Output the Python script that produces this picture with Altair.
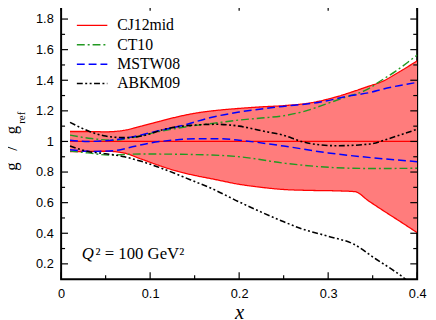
import altair as alt
import pandas as pd

# ---------------- data ----------------
SETS = ["CJ12mid", "CT10", "MSTW08", "ABKM09"]

# CJ12mid uncertainty band (ratio to reference)
band_x = [0.01, 0.03, 0.05, 0.07, 0.09, 0.11, 0.13, 0.15, 0.17, 0.20, 0.225, 0.25, 0.28, 0.31, 0.33, 0.345, 0.36, 0.38, 0.40]
band_hi = [1.065, 1.065, 1.063, 1.072, 1.100, 1.130, 1.160, 1.184, 1.200, 1.216, 1.226, 1.234, 1.252, 1.293, 1.330, 1.360, 1.390, 1.455, 1.527]
band_lo = [0.933, 0.935, 0.936, 0.925, 0.885, 0.843, 0.806, 0.778, 0.755, 0.720, 0.700, 0.686, 0.680, 0.677, 0.672, 0.613, 0.555, 0.480, 0.404]
cj_mid_x = [0.01, 0.40]
cj_mid_y = [1.0, 1.0]

# CT10 band edges
ct_hi_x = [0.01, 0.034, 0.06, 0.08, 0.108, 0.145, 0.17, 0.20, 0.225, 0.252, 0.275, 0.30, 0.32, 0.344, 0.36, 0.376, 0.39, 0.40]
ct_hi_y = [1.041, 1.019, 1.008, 1.025, 1.062, 1.100, 1.118, 1.140, 1.153, 1.170, 1.200, 1.250, 1.290, 1.340, 1.400, 1.460, 1.520, 1.565]
ct_lo_x = [0.01, 0.03, 0.053, 0.09, 0.145, 0.20, 0.252, 0.307, 0.35, 0.40]
ct_lo_y = [0.937, 0.925, 0.911, 0.918, 0.915, 0.900, 0.857, 0.829, 0.823, 0.825]

# MSTW08 band edges
mstw_hi_x = [0.01, 0.03, 0.05, 0.08, 0.108, 0.14, 0.167, 0.20, 0.244, 0.29, 0.326, 0.347, 0.362, 0.40]
mstw_hi_y = [1.008, 1.000, 1.005, 1.030, 1.068, 1.110, 1.155, 1.192, 1.226, 1.256, 1.300, 1.320, 1.343, 1.386]
mstw_lo_x = [0.01, 0.035, 0.06, 0.08, 0.10, 0.125, 0.153, 0.18, 0.20, 0.25, 0.30, 0.35, 0.40]
mstw_lo_y = [0.946, 0.935, 0.940, 0.965, 0.990, 1.008, 1.018, 1.018, 1.008, 0.970, 0.925, 0.893, 0.868]

# ABKM09 band edges
abkm_hi_x = [0.01, 0.03, 0.05, 0.07, 0.09, 0.116, 0.145, 0.175, 0.20, 0.225, 0.25, 0.27, 0.29, 0.31, 0.347, 0.369, 0.39, 0.40]
abkm_hi_y = [1.125, 1.070, 1.035, 1.025, 1.035, 1.080, 1.105, 1.112, 1.100, 1.070, 1.040, 1.000, 0.978, 0.972, 0.983, 1.020, 1.060, 1.080]
abkm_lo_x = [0.01, 0.03, 0.05, 0.071, 0.09, 0.108, 0.145, 0.17, 0.20, 0.248, 0.27, 0.30, 0.329, 0.354, 0.37, 0.384, 0.395]
abkm_lo_y = [0.970, 0.935, 0.920, 0.900, 0.870, 0.835, 0.750, 0.690, 0.605, 0.480, 0.430, 0.380, 0.328, 0.230, 0.170, 0.113, 0.060]

x_major = [0.0, 0.1, 0.2, 0.3, 0.4]
x_minor = [0.05, 0.15, 0.25, 0.35]
y_major = [0.2, 0.4, 0.6, 0.8, 1.0, 1.2, 1.4, 1.6, 1.8]
y_minor = [0.3, 0.5, 0.7, 0.9, 1.1, 1.3, 1.5, 1.7]

y_title_main = ["g\u2002\u2009/\u2002\u2009g"]
y_title_sub = ["ref"]
q_sym = ["Q"]
q_rest = ["\u00b2 = 100 GeV\u00b2"]

# ---------------- styles ----------------
COLORS = ["#ff0000", "#229922", "#0000ff", "#000000"]
DASHES = [[1, 0], [8, 3, 2, 3], [8, 4], [6, 2.5, 2, 2.5, 2, 2.5]]
WIDTHS = [1.3, 1.6, 1.6, 1.3]
W, H = 362, 280

# ---------------- tables ----------------
band_df = pd.DataFrame({"x": band_x, "y": band_hi, "ylo": band_lo})

parts = [
    ("CJ12mid", "mid", cj_mid_x, cj_mid_y),
    ("CJ12mid", "hi", band_x, band_hi),
    ("CJ12mid", "lo", band_x, band_lo),
    ("CT10", "hi", ct_hi_x, ct_hi_y),
    ("CT10", "lo", ct_lo_x, ct_lo_y),
    ("MSTW08", "hi", mstw_hi_x, mstw_hi_y),
    ("MSTW08", "lo", mstw_lo_x, mstw_lo_y),
    ("ABKM09", "hi", abkm_hi_x, abkm_hi_y),
    ("ABKM09", "lo", abkm_lo_x, abkm_lo_y),
]
rows = []
for s, p, xs, ys in parts:
    for i, (a, b) in enumerate(zip(xs, ys)):
        rows.append({"set": s, "part": s + p, "x": a, "y": b, "i": i})
lines_df = pd.DataFrame(rows)

xscale = alt.Scale(domain=[0, 0.4], nice=False, zero=False)
yscale = alt.Scale(domain=[0.1, 1.9], nice=False, zero=False)

X = alt.X("x:Q", scale=xscale, axis=alt.Axis(
    values=x_major, format=".1~f", ticks=False, tickSize=0, domain=False, grid=False,
    labelFlush=False, labelPadding=9, labelFont="Liberation Sans", labelFontSize=13,
    labelColor="black", title="x", titleFont="Liberation Serif", titleFontStyle="italic",
    titleFontWeight="normal", titleFontSize=21, titleColor="black",
    titleBaseline="alphabetic", titleY=40))
Y = alt.Y("y:Q", scale=yscale, axis=alt.Axis(
    values=y_major, format=".1~f", ticks=False, tickSize=0, domain=False, grid=False,
    labelPadding=8, labelFont="Liberation Sans", labelFontSize=13, labelColor="black",
    title=None))

band = alt.Chart(band_df).mark_area(color="#ff7c7c", opacity=1, clip=True,
                                    interpolate="monotone").encode(x=X, y=Y, y2="ylo:Q")

legend = alt.Legend(title=None, orient="none", legendX=15, legendY=14, symbolType="stroke",
                    symbolSize=961, symbolStrokeWidth=1.5, labelFont="Liberation Serif",
                    labelFontSize=16, labelColor="black", labelOffset=9, clipHeight=16,
                    rowPadding=3.7, padding=0)

lines = alt.Chart(lines_df).mark_line(clip=True, interpolate="monotone").encode(
    x=X, y=Y,
    color=alt.Color("set:N", scale=alt.Scale(domain=SETS, range=COLORS), legend=legend),
    strokeDash=alt.StrokeDash("set:N", scale=alt.Scale(domain=SETS, range=DASHES), legend=legend),
    strokeWidth=alt.StrokeWidth("set:N", scale=alt.Scale(domain=SETS, range=WIDTHS), legend=None),
    detail="part:N",
    order="i:Q",
)


def yticks(vals, x1, x2):
    return alt.Chart(pd.DataFrame({"y": vals})).mark_rule(color="black", strokeWidth=1.2).encode(
        y=Y, x=alt.value(x1), x2=alt.value(x2))


def xticks(vals, y1, y2):
    return alt.Chart(pd.DataFrame({"x": vals})).mark_rule(color="black", strokeWidth=1.2).encode(
        x=X, y=alt.value(y1), y2=alt.value(y2))


ticks = [
    yticks(y_major, 0, 7), yticks(y_minor, 0, 4),
    yticks(y_major, W, W - 7), yticks(y_minor, W, W - 4),
    xticks(x_major, H, H - 7), xticks(x_minor, H, H - 4),
    xticks(x_major, 0, 7), xticks(x_minor, 0, 4),
]

t_main = alt.Chart(pd.DataFrame({"t": y_title_main})).mark_text(
    font="Liberation Serif", fontSize=17, angle=270, align="center", baseline="alphabetic",
    color="black").encode(text="t:N", x=alt.value(-45), y=alt.value(147))
t_sub = alt.Chart(pd.DataFrame({"t": y_title_sub})).mark_text(
    font="Liberation Serif", fontSize=11, angle=270, align="left", baseline="alphabetic",
    color="black").encode(text="t:N", x=alt.value(-37), y=alt.value(122))
t_q = alt.Chart(pd.DataFrame({"t": q_sym})).mark_text(
    font="Liberation Serif", fontSize=17, fontStyle="italic", align="left",
    baseline="alphabetic", color="black").encode(text="t:N", x=alt.value(21), y=alt.value(259))
t_rest = alt.Chart(pd.DataFrame({"t": q_rest})).mark_text(
    font="Liberation Serif", fontSize=17, align="left", baseline="alphabetic",
    color="black").encode(text="t:N", x=alt.value(35), y=alt.value(259))

chart = alt.layer(band, lines, *ticks, t_main, t_sub, t_q, t_rest).properties(
    width=W, height=H,
    autosize=alt.AutoSizeParams(type="none"),
    padding={"left": 54, "top": -7, "right": 11, "bottom": 48},
    background="white",
).configure_view(stroke="black", strokeWidth=2)

chart.save("out.html", embed_options={"renderer": "svg", "actions": False})
